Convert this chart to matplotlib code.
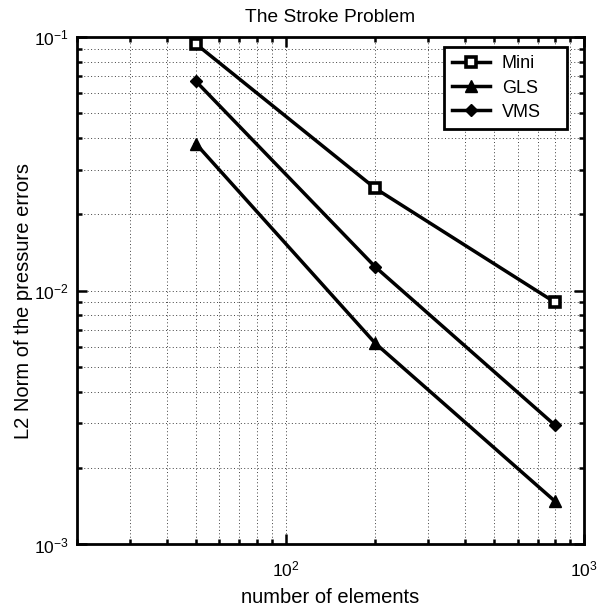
import numpy as np
import matplotlib
matplotlib.use('Agg')
import matplotlib.pyplot as plt

plt.rcParams['font.family'] = ['Liberation Sans', 'DejaVu Sans']
plt.rcParams['mathtext.fontset'] = 'custom'
plt.rcParams['mathtext.rm'] = 'Liberation Sans'
plt.rcParams['mathtext.it'] = 'Liberation Sans:italic'

# data
elements = [50, 200, 800]
mini_err = [0.094, 0.0253, 0.0090]
gls_err = [0.038, 0.0062, 0.00148]
vms_err = [0.067, 0.0124, 0.00295]

fig = plt.figure(figsize=(6.02, 6.07), dpi=100)
ax = fig.add_axes([0.128, 0.103, 0.842, 0.836])

ax.loglog(elements, mini_err, 'k-', lw=2.5, marker='s', ms=6.5, mfc='white', mec='k', mew=2.6, label='Mini')
ax.loglog(elements, gls_err, 'k-', lw=2.5, marker='^', ms=8, mfc='k', mec='k', label='GLS')
ax.loglog(elements, vms_err, 'k-', lw=2.5, marker='D', ms=6, mfc='k', mec='k', label='VMS')

ax.set_xlim(20, 1000)
ax.set_ylim(1e-3, 1e-1)

ax.grid(True, which='both', linestyle=(0, (1, 2.5)), color='0.25', lw=0.7)
ax.tick_params(which='both', direction='in', top=True, right=True, width=1.8, labelsize=12.5)
ax.tick_params(which='major', length=7)
ax.tick_params(which='minor', length=3.5)
ax.tick_params(axis='x', which='major', pad=11)
ax.tick_params(axis='y', which='major', pad=6)
for s in ax.spines.values():
    s.set_linewidth(2)

ax.set_title('The Stroke Problem', fontsize=13.8, pad=11)
ax.set_xlabel('number of elements', fontsize=14.5, labelpad=6)
ax.set_ylabel('L2 Norm of the pressure errors', fontsize=14.5)
ax.yaxis.set_label_coords(-0.087, 0.48)

# expanded legend box: items left aligned, spare room on the right like the original
leg = ax.legend(loc='upper left', bbox_to_anchor=(0.724, 0.75, 0.242, 0.23), mode='expand',
                borderaxespad=0, fontsize=13, fancybox=False, framealpha=1, edgecolor='k',
                borderpad=0.45, handlelength=2.1, handletextpad=0.65, labelspacing=0.4)
leg.get_frame().set_linewidth(2)

fig.savefig('out.png', dpi=100)
